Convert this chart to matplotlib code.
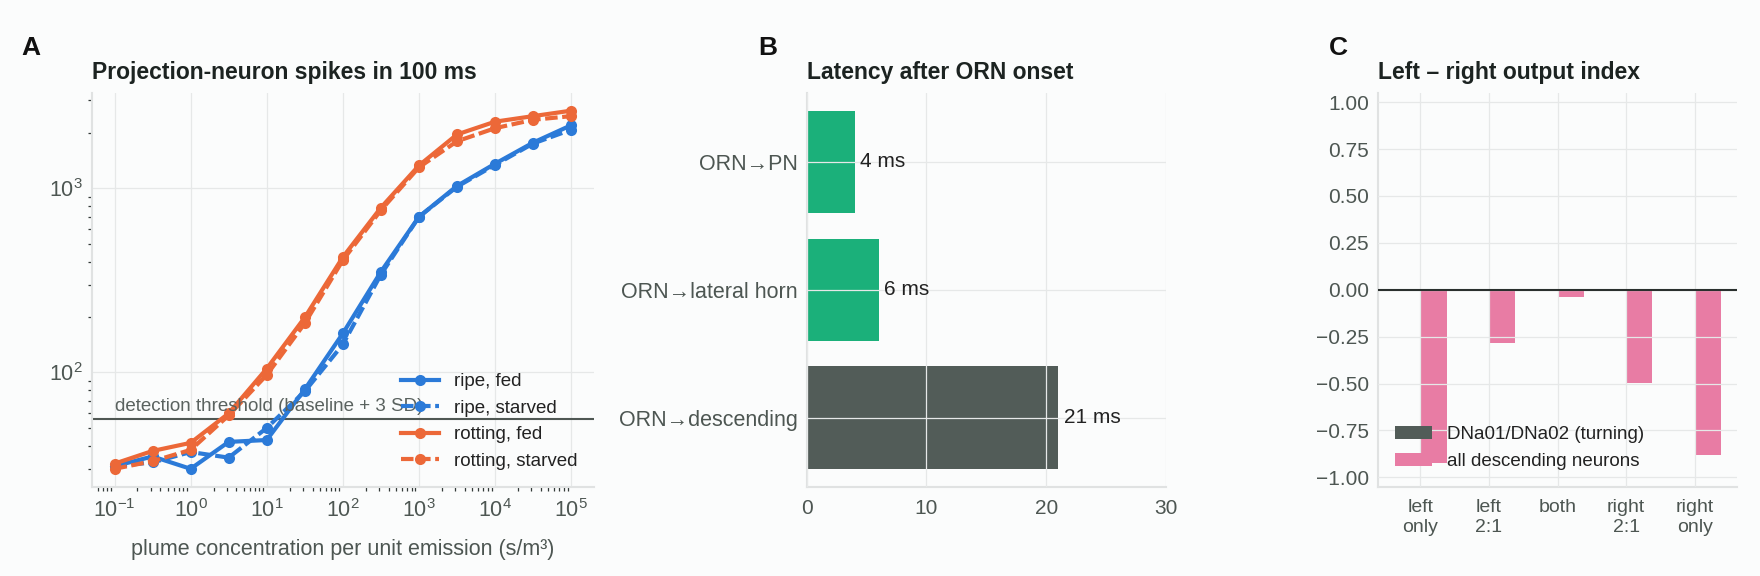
import matplotlib
matplotlib.use("Agg")
import matplotlib.pyplot as plt
from matplotlib.ticker import NullFormatter
import numpy as np

# ---- data ----
conc = [0.1, 0.316, 1, 3.16, 10, 31.6, 100, 316, 1000, 3160, 10000, 31600, 100000]
ripe_fed = [31, 35, 30, 42, 43, 81, 163, 352, 700, 1030, 1360, 1770, 2200]
ripe_starved = [31, 32.5, 37, 34.5, 50, 79, 142, 340, 700, 1020, 1340, 1750, 2080]
rotting_fed = [32, 37.5, 41.5, 60, 105, 199, 423, 785, 1330, 1960, 2300, 2465, 2640]
rotting_starved = [30, 33, 38, 58.5, 97, 185, 407, 760, 1300, 1800, 2120, 2355, 2465]
threshold = 56

paths = ["ORN→PN", "ORN→lateral horn", "ORN→descending"]
latency_ms = [4, 6, 21]

side_cats = ["left\nonly", "left\n2:1", "both", "right\n2:1", "right\nonly"]
dna_index = [0, 0, 0, 0, 0]
all_dn_index = [-0.926, -0.286, -0.041, -0.497, -0.883]

# ---- style ----
BG = "#fbfcfc"
GRID = "#e6e8e8"
SPINE = "#e0e2e2"
TICK = "#4d5652"
DARK = "#1c2321"
BLUE = "#2b7ad8"
ORANGE = "#ec6838"
GREEN = "#1bb07a"
SLATE = "#525c58"
PINK = "#e87ca4"

plt.rcParams["font.family"] = ["Liberation Sans", "DejaVu Sans"]
plt.rcParams["mathtext.fontset"] = "custom"
plt.rcParams["mathtext.rm"] = "Liberation Sans"
plt.rcParams["mathtext.it"] = "Liberation Sans:italic"
plt.rcParams["mathtext.bf"] = "Liberation Sans:bold"

fig = plt.figure(figsize=(17.6, 5.76), dpi=100, facecolor=BG)

bottom, height = 0.155, 0.684
axA = fig.add_axes([0.0521, bottom, 0.2854, height])
axB = fig.add_axes([0.4584, bottom, 0.2040, height])
axC = fig.add_axes([0.7830, bottom, 0.2040, height])


def style(ax):
    ax.set_facecolor(BG)
    for s in ["top", "right"]:
        ax.spines[s].set_visible(False)
    for s in ["left", "bottom"]:
        ax.spines[s].set_color(SPINE)
        ax.spines[s].set_linewidth(1.5)
    ax.grid(True, color=GRID, linewidth=0.9)
    ax.tick_params(which="major", length=0, pad=6.5, labelsize=15, labelcolor=TICK)


for ax in (axA, axB, axC):
    style(ax)

# ---- A ----
ls_dash = (0, (3, 1.1))
kw = dict(lw=3, marker="o", ms=8, mew=0)
axA.plot(conc, ripe_fed, color=BLUE, label="ripe, fed", **kw)
axA.plot(conc, ripe_starved, color=BLUE, ls=ls_dash, label="ripe, starved", **kw)
axA.plot(conc, rotting_fed, color=ORANGE, label="rotting, fed", **kw)
axA.plot(conc, rotting_starved, color=ORANGE, ls=ls_dash, label="rotting, starved", **kw)
axA.set_xscale("log")
axA.set_yscale("log")
axA.xaxis.set_minor_formatter(NullFormatter())
axA.yaxis.set_minor_formatter(NullFormatter())
axA.axhline(threshold, color="#4f5753", lw=1.5, zorder=1.8)
axA.annotate("detection threshold (baseline + 3 SD)", (conc[0], threshold),
             xytext=(0, 5.5), textcoords="offset points", va="baseline", ha="left",
             fontsize=13.5, color="#5a625f")
axA.tick_params(which="major", labelsize=15.5)
axA.tick_params(which="minor", length=3, width=0.9, color="#333a38")
axA.tick_params(axis="x", which="major", pad=9)
axA.set_xlabel("plume concentration per unit emission (s/m³)", fontsize=15.5,
               color=TICK, labelpad=12)
axA.legend(loc="lower right", frameon=False, fontsize=13.5, labelcolor="#222")
axA.set_title("Projection-neuron spikes in 100 ms", loc="left", fontsize=16.5,
              fontweight="bold", color=DARK, pad=10)

# ---- B ----
ypos = np.arange(len(paths))
bars = axB.barh(ypos, latency_ms, height=0.8, color=[GREEN, GREEN, SLATE])
axB.set_axisbelow(False)
axB.set_yticks(ypos)
axB.set_yticklabels(paths, fontsize=15.5)
axB.invert_yaxis()
axB.set_xlim(0, 30)
axB.set_xticks([0, 10, 20, 30])
axB.tick_params(axis="x", pad=9)
axB.bar_label(bars, labels=[f"{v} ms" for v in latency_ms], padding=4,
              fontsize=15, color="#222")
axB.set_title("Latency after ORN onset", loc="left", fontsize=16.5,
              fontweight="bold", color=DARK, pad=10)

# ---- C ----
xc = np.arange(len(side_cats))
w = 0.38
axC.bar(xc - w / 2, dna_index, width=w, color=SLATE, label="DNa01/DNa02 (turning)")
axC.bar(xc + w / 2, all_dn_index, width=w, color=PINK, label="all descending neurons")
axC.set_axisbelow(False)
axC.axhline(0, color="#2a302e", lw=1.5, zorder=3)
axC.set_ylim(-1.05, 1.05)
axC.set_yticks([-1, -0.75, -0.5, -0.25, 0, 0.25, 0.5, 0.75, 1])
axC.set_xticks(xc)
axC.set_xticklabels(side_cats, fontsize=14)
axC.tick_params(axis="x", pad=9)
axC.legend(loc="lower left", frameon=False, fontsize=13.5, labelcolor="#222")
axC.set_title("Left – right output index", loc="left", fontsize=16.5,
              fontweight="bold", color=DARK, pad=10)

# panel letters
for x, s in [(0.0123, "A"), (0.431, "B"), (0.7548, "C")]:
    fig.text(x, 0.9045, s, fontsize=19, fontweight="bold", color="#111", va="baseline")

fig.savefig("out.png", dpi=100, facecolor=BG)
